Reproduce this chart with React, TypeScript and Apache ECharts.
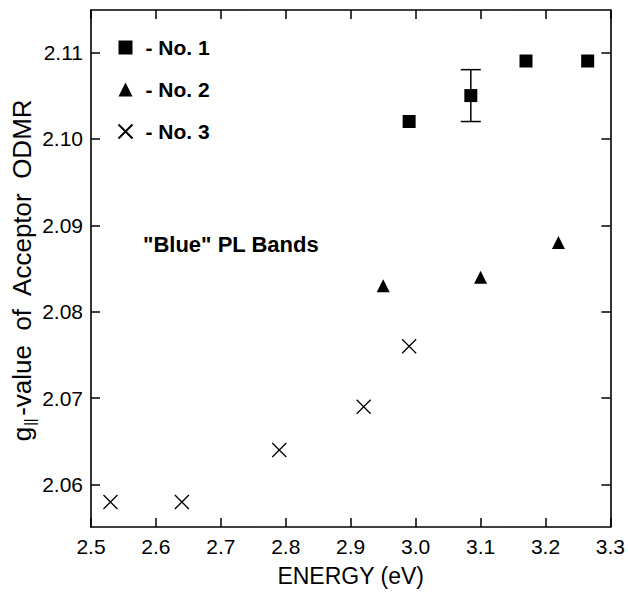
import React, { useEffect, useRef } from "react";
import * as echarts from "echarts";

const energyNo1 = [2.99, 3.085, 3.17, 3.265];
const gNo1 = [2.102, 2.105, 2.109, 2.109];
const energyNo2 = [2.95, 3.1, 3.22];
const gNo2 = [2.083, 2.084, 2.088];
const energyNo3 = [2.53, 2.64, 2.79, 2.92, 2.99];
const gNo3 = [2.058, 2.058, 2.064, 2.069, 2.076];
const errEnergy = [3.085];
const errLow = [2.102];
const errHigh = [2.108];
const xTicks = [2.5, 2.6, 2.7, 2.8, 2.9, 3.0, 3.1, 3.2, 3.3];
const yTicks = [2.06, 2.07, 2.08, 2.09, 2.1, 2.11];

const FONT = "Liberation Sans, Arial, Helvetica, sans-serif";

export default function App() {
  const ref = useRef<HTMLDivElement>(null);
  useEffect(() => {
    if (!ref.current) return;
    const chart = echarts.init(ref.current, undefined, { renderer: "svg" });
    const axisLine = { show: true, lineStyle: { color: "#000", width: 1.6 } };
    const tick = {
      show: true,
      inside: true,
      length: 9,
      lineStyle: { color: "#000", width: 1.5 },
    };
    const xBase = {
      type: "value" as const,
      min: 2.5,
      max: 3.3,
      splitLine: { show: false },
      axisLine,
    };
    const yBase = {
      type: "value" as const,
      min: 2.0551,
      max: 2.1149,
      splitLine: { show: false },
      axisLine,
    };
    const crossPath = "path://M0,0L10,10M10,0L0,10";
    chart.setOption({
      animation: false,
      backgroundColor: "#fff",
      grid: { left: 91, right: 16, top: 10, bottom: 61, containLabel: false },
      xAxis: [
        {
          ...xBase,
          position: "bottom",
          axisTick: { ...tick, customValues: xTicks },
          axisLabel: {
            customValues: xTicks,
            formatter: (v: number) => v.toFixed(1),
            color: "#000",
            fontSize: 21,
            fontFamily: FONT,
            margin: 9,
          },
          name: "ENERGY (eV)",
          nameLocation: "middle",
          nameGap: 37,
          nameTextStyle: { color: "#000", fontSize: 23, fontFamily: FONT },
        },
        {
          ...xBase,
          position: "top",
          axisTick: { ...tick, customValues: xTicks },
          axisLabel: { show: false },
        },
      ],
      yAxis: [
        {
          ...yBase,
          position: "left",
          axisTick: { ...tick, customValues: yTicks },
          axisLabel: {
            customValues: yTicks,
            formatter: (v: number) => v.toFixed(2),
            color: "#000",
            fontSize: 21,
            fontFamily: FONT,
            margin: 8,
          },
        },
        {
          ...yBase,
          position: "right",
          axisTick: { ...tick, customValues: yTicks },
          axisLabel: { show: false },
        },
      ],
      legend: {
        orient: "vertical",
        left: 111,
        top: 32,
        itemWidth: 14,
        itemHeight: 14,
        itemGap: 21,
        data: ["No. 1", "No. 2", "No. 3"],
        formatter: (n: string) => "- " + n,
        textStyle: {
          color: "#000",
          fontSize: 21,
          fontWeight: "bold",
          fontFamily: FONT,
          padding: [0, 0, 0, 8],
        },
      },
      graphic: [
        {
          type: "text",
          left: 143,
          top: 233,
          style: {
            text: '"Blue" PL Bands',
            fill: "#000",
            font: `bold 22px ${FONT}`,
          },
        },
        {
          type: "text",
          x: 22,
          y: 270,
          rotation: Math.PI / 2,
          style: {
            text: "{g|g}{s|||}{t|-value  of  Acceptor  ODMR}",
            align: "center",
            verticalAlign: "middle",
            rich: {
              g: { fontSize: 26, fontFamily: FONT, fill: "#000" },
              s: {
                fontSize: 14,
                fontFamily: FONT,
                fill: "#000",
                padding: [15, 2, 0, 1],
              },
              t: { fontSize: 26, fontFamily: FONT, fill: "#000" },
            },
          },
        },
      ],
      series: [
        {
          name: "No. 1",
          type: "scatter",
          symbol: "rect",
          symbolSize: 13,
          itemStyle: { color: "#000", opacity: 1 },
          data: energyNo1.map((x, i) => [x, gNo1[i]]),
          z: 3,
        },
        {
          name: "No. 2",
          type: "scatter",
          symbol: "triangle",
          symbolSize: 13,
          itemStyle: { color: "#000", opacity: 1 },
          data: energyNo2.map((x, i) => [x, gNo2[i]]),
        },
        {
          name: "No. 3",
          type: "scatter",
          symbol: crossPath,
          symbolSize: 14,
          itemStyle: { color: "none", borderColor: "#000", borderWidth: 1.3, opacity: 1 },
          data: energyNo3.map((x, i) => [x, gNo3[i]]),
        },
        {
          name: "err",
          type: "custom",
          data: errEnergy.map((x, i) => [x, errLow[i], errHigh[i]]),
          renderItem: (params: any, api: any) => {
            const lo = api.coord([api.value(0), api.value(1)]);
            const hi = api.coord([api.value(0), api.value(2)]);
            const w = 10;
            const st = { stroke: "#000", lineWidth: 1.5 };
            return {
              type: "group",
              children: [
                { type: "line", shape: { x1: lo[0], y1: lo[1], x2: hi[0], y2: hi[1] }, style: st },
                { type: "line", shape: { x1: lo[0] - w, y1: lo[1], x2: lo[0] + w, y2: lo[1] }, style: st },
                { type: "line", shape: { x1: hi[0] - w, y1: hi[1], x2: hi[0] + w, y2: hi[1] }, style: st },
              ],
            };
          },
          z: 1,
        },
      ],
    });
    return () => chart.dispose();
  }, []);
  return (
    <div
      ref={ref}
      style={{ position: "fixed", left: 0, top: 0, width: 628, height: 592, background: "#fff" }}
    />
  );
}
